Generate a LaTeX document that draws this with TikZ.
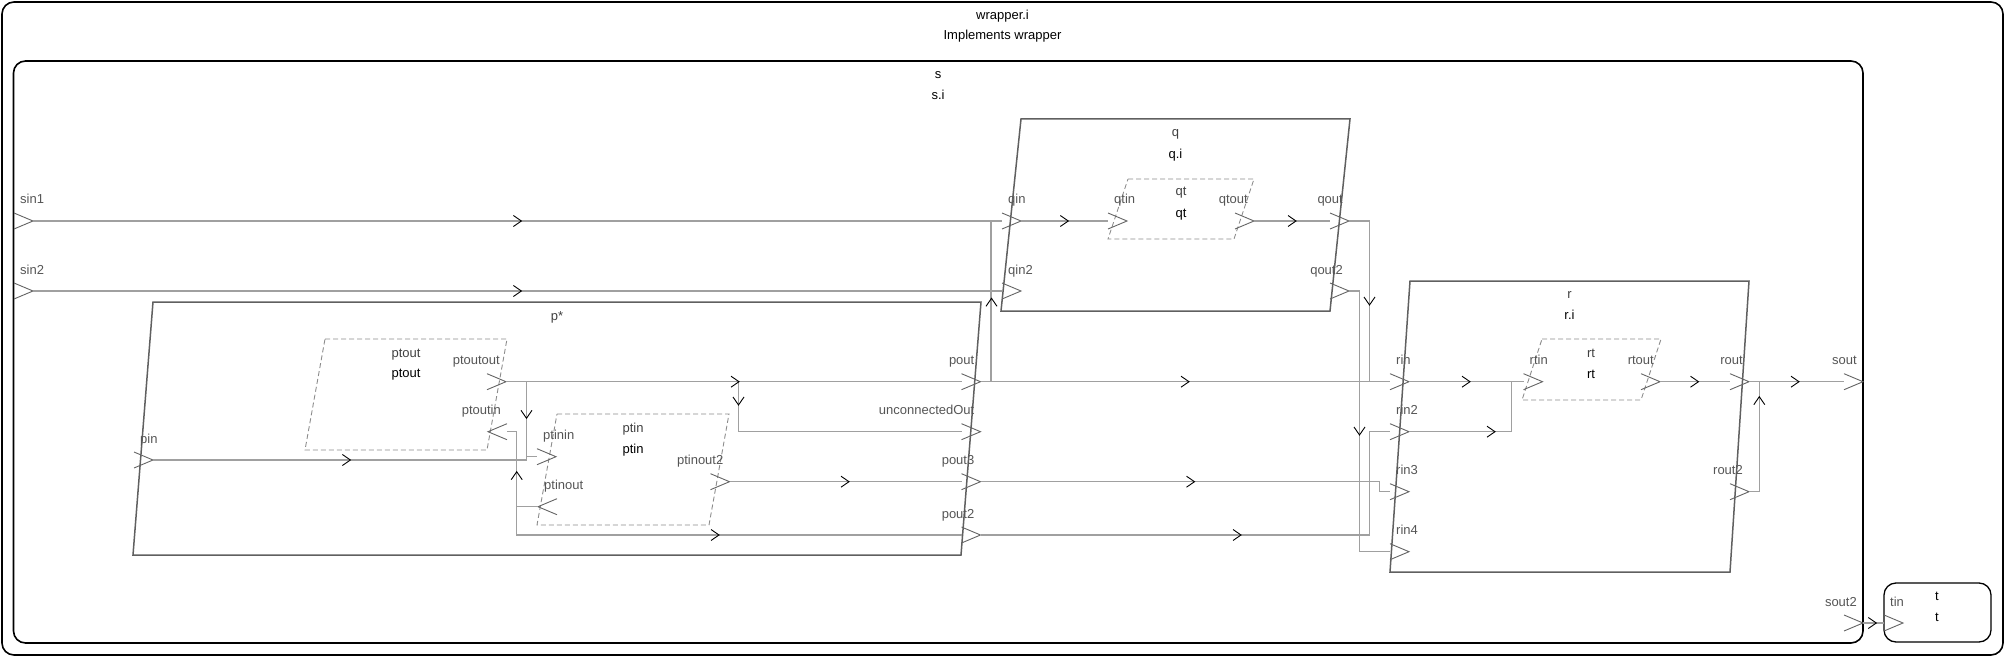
\documentclass[tikz,border=0pt]{standalone}
\usepackage{fontspec}
\setmainfont{Liberation Sans}
\definecolor{wirec}{RGB}{160,160,160}
\definecolor{boxc}{RGB}{96,96,96}
\definecolor{portc}{RGB}{100,100,100}
\definecolor{labc}{RGB}{85,85,85}
\definecolor{dashc}{RGB}{140,140,140}
\tikzset{
  outerbox/.style={draw=black, line width=1.6pt, rounded corners=12pt},
  blockbox/.style={draw=boxc, line width=1.5pt},
  subbox/.style={draw=dashc, line width=0.9pt, dash pattern=on 5pt off 3pt},
  wire/.style={draw=wirec, line width=1.3pt},
  portline/.style={draw=portc, line width=0.9pt},
  arrline/.style={draw=black, line width=0.9pt},
  plabel/.style={font=\fontsize{13}{15}\selectfont, text=labc, inner sep=0pt},
  iname/.style={font=\fontsize{13}{15}\selectfont, text=black!75, inner sep=0pt, anchor=base},
  tname/.style={font=\fontsize{13}{15}\selectfont, text=black, inner sep=0pt, anchor=base},
  mr/.pic={\draw[arrline] (-8,-5.5) -- (0,0) -- (-8,5.5);},
  md/.pic={\draw[arrline] (-5.5,-8) -- (0,0) -- (5.5,-8);},
  mu/.pic={\draw[arrline] (-5.5,8) -- (0,0) -- (5.5,8);},
}
% port pointing right, label left-aligned (input on left side)
\newcommand\inport[4]{%
  \coordinate (#1-b) at (#2,#3);
  \coordinate (#1-t) at ({#2+19},#3);
  \draw[portline] (#2,{#3-8}) -- (#1-t) -- (#2,{#3+8});
  \node[plabel,anchor=base west] (#1-l) at ({#2+6},{#3-17}) {#4};}
% port pointing right, label right-aligned (output on right side)
\newcommand\outport[4]{%
  \coordinate (#1-b) at (#2,#3);
  \coordinate (#1-t) at ({#2+19},#3);
  \draw[portline] (#2,{#3-8}) -- (#1-t) -- (#2,{#3+8});
  \node[plabel,anchor=base east] (#1-l) at ({#2+13},{#3-17}) {#4};}
% port pointing left on right side, label right-aligned
\newcommand\inportL[4]{%
  \coordinate (#1-t) at (#2,#3);
  \coordinate (#1-b) at ({#2+19},#3);
  \draw[portline] ({#2+19},{#3-8}) -- (#1-t) -- ({#2+19},{#3+8});
  \node[plabel,anchor=base east] (#1-l) at ({#2+13},{#3-17}) {#4};}
% port pointing left on left side, label left-aligned
\newcommand\outportL[4]{%
  \coordinate (#1-t) at (#2,#3);
  \coordinate (#1-b) at ({#2+19},#3);
  \draw[portline] ({#2+19},{#3-8}) -- (#1-t) -- ({#2+19},{#3+8});
  \node[plabel,anchor=base west] (#1-l) at ({#2+6},{#3-17}) {#4};}
\begin{document}
\begin{tikzpicture}[x=1pt,y=-1pt]
\useasboundingbox (0,0) rectangle (2006,658);
% ---------- boxes
\draw[outerbox] (2,2) rectangle (2003,655);
\node[tname] (wrapname) at (1002.5,20) {wrapper.i};
\node[tname] (wraptype) at (1002.5,40) {Implements wrapper};
\draw[outerbox] (13.5,61) rectangle (1863,643);
\node[tname] (sname) at (938,79) {s};
\node[tname] (stype) at (938,100) {s.i};
\draw[outerbox, line width=1.3pt] (1884,583) rectangle (1991,642);
\node[tname] (tname1) at (1937,600) {t};
\node[tname] (tname2) at (1937,621) {t};
% q
\draw[blockbox] (1021,119) -- (1350,119) -- (1330,311) -- (1001,311) -- cycle;
\node[iname] (qname) at (1175.5,137) {q};
\node[tname] (qtype) at (1175.5,159) {q.i};
\draw[subbox] (1128,179) -- (1254,179) -- (1234,239) -- (1108,239) -- cycle;
\node[iname] (qtname) at (1181,196) {qt};
\node[tname] (qttype) at (1181,217) {qt};
% r
\draw[blockbox] (1410,281) -- (1749,281) -- (1730,572) -- (1390,572) -- cycle;
\node[iname] (rname) at (1569.5,298) {r};
\node[tname] (rtype) at (1569.5,319) {r.i};
\draw[subbox] (1542,339) -- (1661,339) -- (1641,400) -- (1522,400) -- cycle;
\node[iname] (rtname) at (1591,357) {rt};
\node[tname] (rttype) at (1591,378) {rt};
% p
\draw[blockbox] (153,302) -- (981,302) -- (961,555) -- (133,555) -- cycle;
\node[iname] (pname) at (557,320) {p*};
\draw[subbox] (325,339) -- (507,339) -- (487,450) -- (305,450) -- cycle;
\node[iname] (ptoutname) at (406,357) {ptout};
\node[tname] (ptouttype) at (406,377) {ptout};
\draw[subbox] (557,414) -- (729,414) -- (709,525) -- (537,525) -- cycle;
\node[iname] (ptinname) at (633,432) {ptin};
\node[tname] (ptintype) at (633,453) {ptin};
% ---------- ports
\inport{sin1}{14}{221}{sin1}
\inport{sin2}{14}{291}{sin2}
\outport{sout}{1844}{381.7}{sout}
\outport{sout2}{1844}{623}{sout2}
\inport{tin}{1884}{623}{tin}
\inport{qin}{1002}{221}{qin}
\inport{qin2}{1002}{291}{qin2}
\outport{qout}{1330}{221}{qout}
\outport{qout2}{1330}{291}{qout2}
\inport{qtin}{1108}{221}{qtin}
\outport{qtout}{1235}{221}{qtout}
\inport{rin}{1390}{381.7}{rin}
\inport{rin2}{1390}{431.7}{rin2}
\inport{rin3}{1390}{491.7}{rin3}
\inport{rin4}{1390}{551.7}{rin4}
\outport{rout}{1730}{381.7}{rout}
\outport{rout2}{1730}{491.7}{rout2}
\inport{rtin}{1523.5}{381.7}{rtin}
\outport{rtout}{1641}{381.7}{rtout}
\inport{pin}{134}{460}{pin}
\outport{pout}{961.5}{381.7}{pout}
\outport{unc}{961.5}{431.7}{unconnectedOut}
\outport{pout3}{961.5}{481.7}{pout3}
\outport{pout2}{961.5}{535}{pout2}
\outport{ptoutout}{487}{381.7}{ptoutout}
\inportL{ptoutin}{488}{431.7}{ptoutin}
\inport{ptinin}{537}{456.7}{ptinin}
\outportL{ptinout}{538}{506.7}{ptinout}
\outport{ptinout2}{710.5}{481.7}{ptinout2}
% ---------- wires
\draw[wire] (sin1-t) -- (qin-b);
\draw[wire] (sin2-t) -- (qin2-b);
\draw[wire] (pout-t) -- ++(10.5,0) |- (qin-b);
\draw[wire] (pout-t) -- (rin-b);
\draw[wire] (pout3-t) -| ([xshift=-10.5pt]rin3-b) -- (rin3-b);
\draw[wire] (pout2-t) -| ([xshift=-20.5pt]rin2-b) -- (rin2-b);
\draw[wire] (qout-t) -| ([xshift=-20.5pt]rin-b) -- (rin-b);
\draw[wire] (qout2-t) -| ([xshift=-30.5pt]rin4-b) -- (rin4-b);
\draw[wire] (qin-t) -- (qtin-b);
\draw[wire] (qtout-t) -- (qout-b);
\draw[wire] (rin-t) -- (rtin-b);
\draw[wire] (rin2-t) -| ([xshift=-12pt]rtin-b) -- (rtin-b);
\draw[wire] (rtout-t) -- (rout-b);
\draw[wire] (rout-t) -- (sout-b);
\draw[wire] (rout2-t) -- ++(10.3,0) |- (sout-b);
\draw[wire] (sout2-t) -- (tin-b);
\draw[wire] (pin-t) -| ([xshift=-10.5pt]ptinin-b) -- (ptinin-b);
\draw[wire] (ptoutout-t) -| ([xshift=-10.5pt]ptinin-b) -- (ptinin-b);
\draw[wire] (ptoutout-t) -- (pout-b);
\draw[wire] (ptoutout-t) -- ++(232.5,0) |- (unc-b);
\draw[wire] (ptinout-t) -- ++(-21.3,0) |- (ptoutin-b);
\draw[wire] (ptinout-t) -- ++(-21.3,0) |- (pout2-b);
\draw[wire] (ptinout2-t) -- (pout3-b);
% ---------- direction marks
\pic at (521.4,221) {mr};
\pic at (521.4,291) {mr};
\pic at (350.4,460) {mr};
\pic at (739,381.7) {mr};
\pic at (738.5,405) {md};
\pic at (526.5,418.3) {md};
\pic at (516.7,471.7) {mu};
\pic at (719,535) {mr};
\pic at (849,481.7) {mr};
\pic at (1068.3,221) {mr};
\pic at (1296,221) {mr};
\pic at (991.5,298.3) {mu};
\pic at (1189,381.7) {mr};
\pic at (1194.5,481.7) {mr};
\pic at (1241,535) {mr};
\pic at (1369.5,305) {md};
\pic at (1359.5,435) {md};
\pic at (1470,381.7) {mr};
\pic at (1495,431.7) {mr};
\pic at (1698.5,381.7) {mr};
\pic at (1799,381.7) {mr};
\pic at (1759.3,396.7) {mu};
\pic at (1876.3,623) {mr};
\end{tikzpicture}
\end{document}
